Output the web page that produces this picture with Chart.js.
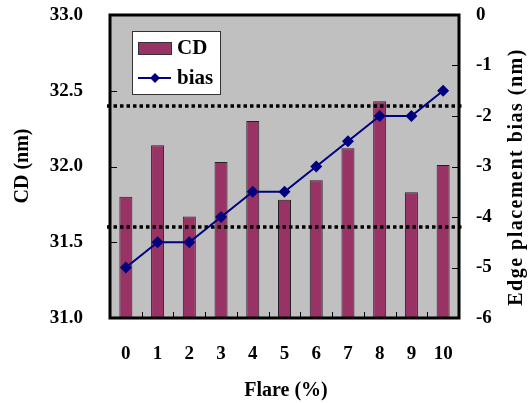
<!DOCTYPE html>
<html>
<head>
<meta charset="utf-8">
<title>CD and edge placement bias vs flare</title>
<script src="https://cdn.jsdelivr.net/npm/chart.js@4/dist/chart.umd.min.js"></script>
<style>
    html, body { margin: 0; padding: 0; background: #fff; }
    #wrap { width: 530px; height: 403px; }
</style>
</head>
<body>
<div id="wrap"><canvas id="grafico" width="530" height="403"></canvas></div>
<script>
// Datos
const flare = ['0', '1', '2', '3', '4', '5', '6', '7', '8', '9', '10'];
const cdValores = [31.80, 32.14, 31.67, 32.03, 32.30, 31.78, 31.91, 32.12, 32.43, 31.83, 32.01];
const biasValores = [-5, -4.5, -4.5, -4, -3.5, -3.5, -3, -2.5, -2, -2, -1.5];
const limitesCD = [32.4, 31.6];
const cdRango = [31, 33];
const biasRango = [-6, 0];

const FUENTE = "'Liberation Serif', 'Times New Roman', serif";
const COLOR_BARRA = '#993366';
const COLOR_LINEA = '#000080';

// Fondo gris, marco, marcas de eje, líneas punteadas, leyenda y títulos
const decoracion = {
    id: 'decoracion',
    beforeDatasetsDraw(chart) {
        const { ctx, chartArea: a } = chart;
        ctx.save();
        ctx.fillStyle = '#c0c0c0';
        ctx.fillRect(a.left, a.top, a.right - a.left, a.bottom - a.top);
        ctx.restore();
    },
    afterDatasetDraw(chart, args) {
        if (args.index !== 0) return;
        // Límites de CD (punteado)
        const { ctx, chartArea: a } = chart;
        const y = chart.scales.y;
        ctx.save();
        ctx.strokeStyle = '#000';
        ctx.lineWidth = 3.5;
        ctx.setLineDash([3.5, 3]);
        limitesCD.forEach(v => {
            const py = Math.round(y.getPixelForValue(v));
            ctx.beginPath();
            ctx.moveTo(a.left - 3, py);
            ctx.lineTo(a.right + 3, py);
            ctx.stroke();
        });
        ctx.restore();
    },
    afterDraw(chart) {
        const { ctx, chartArea: a } = chart;
        const x = chart.scales.x;
        const y = chart.scales.y;
        const y1 = chart.scales.y1;
        ctx.save();

        // Marcas interiores
        ctx.strokeStyle = '#000';
        ctx.lineWidth = 1;
        y.ticks.forEach(t => {
            const py = Math.round(y.getPixelForValue(t.value)) + 0.5;
            ctx.beginPath();
            ctx.moveTo(a.left, py);
            ctx.lineTo(a.left + 7, py);
            ctx.stroke();
        });
        y1.ticks.forEach(t => {
            const py = Math.round(y1.getPixelForValue(t.value)) + 0.5;
            ctx.beginPath();
            ctx.moveTo(a.right - 7, py);
            ctx.lineTo(a.right, py);
            ctx.stroke();
        });
        for (let i = 1; i < flare.length; i++) {
            const px = Math.round((x.getPixelForValue(i - 1) + x.getPixelForValue(i)) / 2) + 0.5;
            ctx.beginPath();
            ctx.moveTo(px, a.bottom);
            ctx.lineTo(px, a.bottom - 6);
            ctx.stroke();
        }

        // Marco
        ctx.lineWidth = 3;
        ctx.strokeRect(a.left, a.top, a.right - a.left, a.bottom - a.top);

        // Leyenda
        const lx = 132, ly = 31, lw = 88, lh = 63;
        ctx.fillStyle = '#fff';
        ctx.fillRect(lx, ly, lw, lh);
        ctx.lineWidth = 1;
        ctx.strokeStyle = '#333';
        ctx.strokeRect(lx + 0.5, ly + 0.5, lw, lh);
        ctx.fillStyle = COLOR_BARRA;
        ctx.fillRect(138.5, 42.5, 33, 12);
        ctx.strokeRect(138.5, 42.5, 33, 12);
        ctx.strokeStyle = COLOR_LINEA;
        ctx.lineWidth = 2;
        ctx.beginPath();
        ctx.moveTo(138, 78);
        ctx.lineTo(171, 78);
        ctx.stroke();
        ctx.fillStyle = COLOR_LINEA;
        ctx.beginPath();
        ctx.moveTo(155, 73); ctx.lineTo(160, 78); ctx.lineTo(155, 83); ctx.lineTo(150, 78);
        ctx.closePath();
        ctx.fill();
        ctx.fillStyle = '#000';
        ctx.font = 'bold 21px ' + FUENTE;
        ctx.textAlign = 'left';
        ctx.textBaseline = 'middle';
        ctx.fillText('CD', 177, 49);
        ctx.fillText('bias', 177, 79);

        // Títulos de ejes
        ctx.font = 'bold 20px ' + FUENTE;
        ctx.textAlign = 'center';
        ctx.fillText('Flare (%)', 286, 391);

        ctx.save();
        ctx.translate(23, 166);
        ctx.rotate(-Math.PI / 2);
        ctx.fillText('CD (nm)', 0, 0);
        ctx.restore();

        ctx.save();
        ctx.translate(517, 177);
        ctx.rotate(-Math.PI / 2);
        ctx.letterSpacing = '1.5px';
        ctx.fillText('Edge placement bias (nm)', 0, 0);
        ctx.restore();

        ctx.restore();
    }
};

// Tamaños fijos de los ejes, sin margen extra por las etiquetas
function fijarAncho(ancho) {
    return s => {
        s.width = ancho;
        s.paddingTop = 0;
        s.paddingBottom = 0;
    };
}

new Chart(document.getElementById('grafico'), {
    type: 'bar',
    data: {
        labels: flare,
        datasets: [
            {
                type: 'bar',
                label: 'CD',
                data: cdValores,
                yAxisID: 'y',
                backgroundColor: COLOR_BARRA,
                borderColor: '#222',
                borderWidth: 1,
                borderSkipped: 'bottom',
                barPercentage: 0.41,
                categoryPercentage: 1,
                order: 2
            },
            {
                type: 'line',
                label: 'bias',
                data: biasValores,
                yAxisID: 'y1',
                borderColor: COLOR_LINEA,
                backgroundColor: COLOR_LINEA,
                borderWidth: 2,
                pointStyle: 'rectRot',
                pointRadius: 6,
                pointBorderWidth: 0,
                tension: 0,
                order: 1
            }
        ]
    },
    options: {
        responsive: false,
        animation: false,
        layout: { padding: { top: 15, left: 0, right: 0, bottom: 0 } },
        plugins: {
            legend: { display: false },
            tooltip: { enabled: false }
        },
        scales: {
            x: {
                grid: { display: false, drawTicks: false },
                border: { display: false },
                ticks: {
                    color: '#000',
                    padding: 25,
                    font: { family: FUENTE, size: 19, weight: 'bold' }
                },
                afterFit: s => {
                    s.height = 85;
                    s.paddingLeft = 0;
                    s.paddingRight = 0;
                }
            },
            y: {
                position: 'left',
                min: cdRango[0],
                max: cdRango[1],
                grid: { display: false, drawTicks: false },
                border: { display: false },
                ticks: {
                    stepSize: 0.5,
                    color: '#000',
                    padding: 27,
                    font: { family: FUENTE, size: 19, weight: 'bold' },
                    callback: v => v.toFixed(1)
                },
                afterFit: fijarAncho(110)
            },
            y1: {
                position: 'right',
                min: biasRango[0],
                max: biasRango[1],
                grid: { display: false, drawTicks: false },
                border: { display: false },
                ticks: {
                    stepSize: 1,
                    color: '#000',
                    padding: 17,
                    font: { family: FUENTE, size: 19, weight: 'bold' }
                },
                afterFit: fijarAncho(71)
            }
        }
    },
    plugins: [decoracion]
});
</script>
</body>
</html>
